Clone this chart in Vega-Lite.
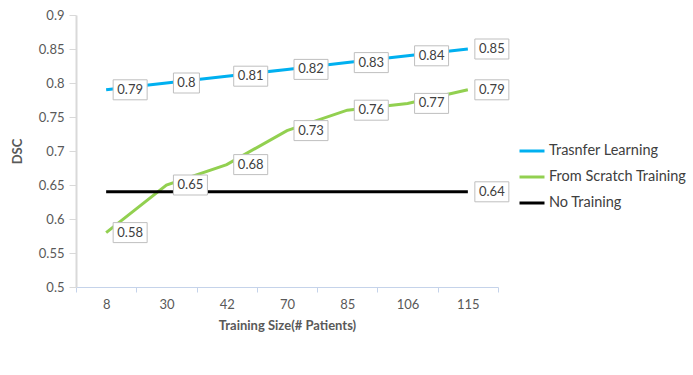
{
  "$schema": "https://vega.github.io/schema/vega-lite/v6.json",
  "width": 422,
  "height": 272,
  "autosize": {"type": "none"},
  "padding": {"left": 76, "top": 15, "right": 195, "bottom": 88},
  "background": "white",
  "config": {
    "view": {"stroke": null},
    "font": "Lato",
    "axis": {"labelFont": "Lato", "titleFont": "Lato", "labelColor": "#595959", "titleColor": "#595959", "labelFontSize": 13, "titleFontSize": 13, "grid": false},
    "legend": {"labelFont": "Lato", "labelFontSize": 14.5, "labelColor": "#404040"}
  },
  "data": {
    "values": [
      {"size": "8", "series": "Trasnfer Learning", "DSC": 0.79},
      {"size": "30", "series": "Trasnfer Learning", "DSC": 0.8},
      {"size": "42", "series": "Trasnfer Learning", "DSC": 0.81},
      {"size": "70", "series": "Trasnfer Learning", "DSC": 0.82},
      {"size": "85", "series": "Trasnfer Learning", "DSC": 0.83},
      {"size": "106", "series": "Trasnfer Learning", "DSC": 0.84},
      {"size": "115", "series": "Trasnfer Learning", "DSC": 0.85},
      {"size": "8", "series": "From Scratch Training", "DSC": 0.58},
      {"size": "30", "series": "From Scratch Training", "DSC": 0.65},
      {"size": "42", "series": "From Scratch Training", "DSC": 0.68},
      {"size": "70", "series": "From Scratch Training", "DSC": 0.73},
      {"size": "85", "series": "From Scratch Training", "DSC": 0.76},
      {"size": "106", "series": "From Scratch Training", "DSC": 0.77},
      {"size": "115", "series": "From Scratch Training", "DSC": 0.79},
      {"size": "8", "series": "No Training", "DSC": 0.64},
      {"size": "30", "series": "No Training", "DSC": 0.64},
      {"size": "42", "series": "No Training", "DSC": 0.64},
      {"size": "70", "series": "No Training", "DSC": 0.64},
      {"size": "85", "series": "No Training", "DSC": 0.64},
      {"size": "106", "series": "No Training", "DSC": 0.64},
      {"size": "115", "series": "No Training", "DSC": 0.64}
    ]
  },
  "encoding": {
    "x": {
      "field": "size", "type": "ordinal", "sort": null,
      "scale": {"paddingInner": 0, "paddingOuter": 0},
      "axis": {
        "title": "Training Size(# Patients)", "titleFontWeight": "bold", "titlePadding": 8,
        "labelAngle": 0, "tickBand": "extent", "domainColor": "#c5d3ea", "tickColor": "#c5d3ea",
        "domainWidth": 1, "tickSize": 5, "labelPadding": 6
      }
    },
    "y": {
      "field": "DSC", "type": "quantitative",
      "scale": {"domain": [0.5, 0.9], "nice": false, "zero": false},
      "axis": {
        "title": "DSC", "titleFontWeight": "bold", "titlePadding": 14,
        "values": [0.5, 0.55, 0.6, 0.65, 0.7, 0.75, 0.8, 0.85, 0.9],
        "format": ".2~f", "domainColor": "#d9d9d9", "domainWidth": 2,
        "tickColor": "#d9d9d9", "tickSize": 7, "labelPadding": 5
      }
    }
  },
  "layer": [
    {
      "mark": {"type": "line", "strokeWidth": 3},
      "encoding": {
        "color": {
          "field": "series", "type": "nominal",
          "scale": {"domain": ["Trasnfer Learning", "From Scratch Training", "No Training"], "range": ["#00b0f0", "#92d050", "#000000"]},
          "sort": ["Trasnfer Learning", "From Scratch Training", "No Training"],
          "legend": {
            "title": null, "orient": "none", "legendX": 442, "legendY": 122,
            "symbolType": "stroke", "symbolSize": 625, "symbolStrokeWidth": 3,
            "labelOffset": 3, "rowPadding": 5, "padding": 0
          }
        }
      }
    },
    {
      "transform": [
        {"filter": "(datum.series != 'No Training' || datum.size == '115') && datum.DSC != 0.8"}
      ],
      "mark": {"type": "point", "shape": "M-1.7,-1H1.7V1H-1.7Z", "size": 400, "filled": true, "fill": "white", "stroke": "#bfbfbf", "strokeWidth": 1, "opacity": 1, "xOffset": 24}
    },
    {
      "transform": [{"filter": "datum.DSC == 0.8 && datum.series == 'Trasnfer Learning'"}],
      "mark": {"type": "point", "shape": "M-1.3,-1H1.3V1H-1.3Z", "size": 400, "filled": true, "fill": "white", "stroke": "#bfbfbf", "strokeWidth": 1, "opacity": 1, "xOffset": 20}
    },
    {
      "transform": [
        {"filter": "(datum.series != 'No Training' || datum.size == '115') && datum.DSC != 0.8"}
      ],
      "mark": {"type": "text", "fontSize": 13, "color": "#404040", "xOffset": 24, "baseline": "middle"},
      "encoding": {"text": {"field": "DSC", "type": "quantitative", "format": ".2~f"}}
    },
    {
      "transform": [{"filter": "datum.DSC == 0.8 && datum.series == 'Trasnfer Learning'"}],
      "mark": {"type": "text", "fontSize": 13, "color": "#404040", "xOffset": 20, "baseline": "middle"},
      "encoding": {"text": {"field": "DSC", "type": "quantitative", "format": ".2~f"}}
    }
  ]
}
